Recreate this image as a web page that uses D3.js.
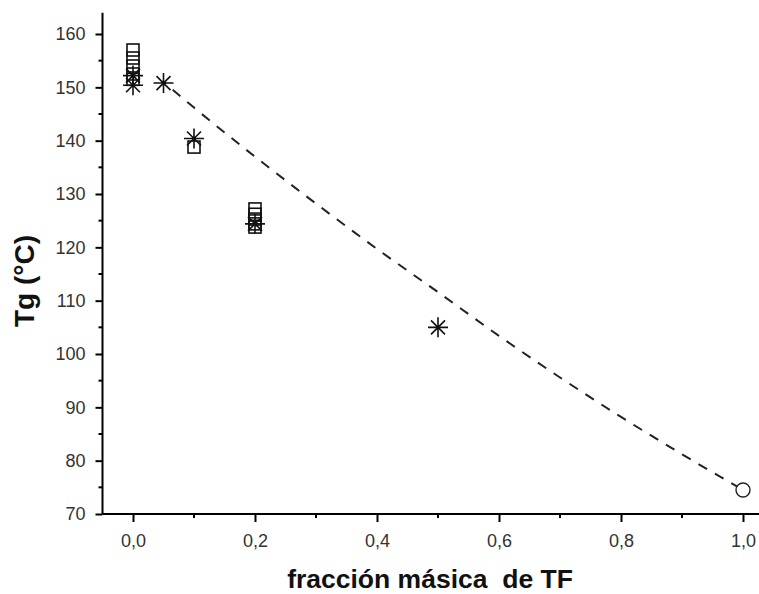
<!DOCTYPE html>
<html>
<head>
<meta charset="utf-8">
<script src="https://cdn.jsdelivr.net/npm/d3@7"></script>
<style>
  html, body { margin: 0; padding: 0; background: #fff; }
  svg { display: block; }
</style>
</head>
<body>
<svg id="chart" width="759" height="594"></svg>
<script>
// ---- data ----
const squareX = [0, 0, 0, 0, 0, 0.1, 0.2, 0.2, 0.2, 0.2, 0.2];
const squareY = [157, 155.5, 154, 152.5, 151.5, 138.8, 127.2, 126.2, 125.3, 124.4, 123.8];
const starX = [0, 0, 0.05, 0.1, 0.2, 0.5];
const starY = [152.2, 150.4, 150.8, 140.4, 124.4, 105];
const circleX = [1.0];
const circleY = [74.5];
const curveX = [0.05, 0.1, 0.2, 0.3, 0.4, 0.5, 0.6, 0.7, 0.8, 0.9, 1.0];
const curveY = [151, 146.2, 137, 128.2, 119.7, 111.6, 103.4, 95.6, 88.2, 81.2, 74.5];
const xTicks = [0, 0.2, 0.4, 0.6, 0.8, 1.0];
const xMinor = [0.1, 0.3, 0.5, 0.7, 0.9];
const yTicks = [70, 80, 90, 100, 110, 120, 130, 140, 150, 160];
const yMinor = [75, 85, 95, 105, 115, 125, 135, 145, 155];
const xTitle = "fracción másica  de TF";
const yTitle = "Tg (°C)";

// ---- scales ----
const svg = d3.select("#chart");
const x = d3.scaleLinear().domain([0, 1]).range([133, 743]);
const y = d3.scaleLinear().domain([70, 160]).range([514, 34]);
const xMin = -0.05, xMax = 1.05, yMax = 164;
const FONT = "Arial, 'Liberation Sans', sans-serif";

const fmt = d => d3.format(".1f")(d).replace(".", ",");

// x axis
const xAxisG = svg.append("g").attr("transform", `translate(0,${y(70)})`);
xAxisG.call(d3.axisBottom(x).tickValues(xTicks).tickFormat(fmt).tickSize(8).tickSizeOuter(0).tickPadding(12));
xAxisG.select(".domain").attr("d", `M${x(xMin)},0H${x(xMax)}`).attr("stroke-width", 2);
xAxisG.selectAll(".tick line").attr("stroke-width", 2);
xAxisG.selectAll(".tick text").attr("font-family", FONT).attr("font-size", 18).attr("fill", "#333");
svg.append("g").attr("transform", `translate(0,${y(70)})`)
  .selectAll("line").data(xMinor).join("line")
  .attr("x1", d => x(d)).attr("x2", d => x(d)).attr("y1", 0).attr("y2", 4)
  .attr("stroke", "#000").attr("stroke-width", 2);

// y axis
const yAxisG = svg.append("g").attr("transform", `translate(${x(xMin)},0)`);
yAxisG.call(d3.axisLeft(y).tickValues(yTicks).tickFormat(d3.format("d")).tickSize(7).tickSizeOuter(0).tickPadding(10));
yAxisG.select(".domain").attr("d", `M0,${y(70)}V${y(yMax)}`).attr("stroke-width", 2);
yAxisG.selectAll(".tick line").attr("stroke-width", 2);
yAxisG.selectAll(".tick text").attr("font-family", FONT).attr("font-size", 18).attr("fill", "#333");
svg.append("g").attr("transform", `translate(${x(xMin)},0)`)
  .selectAll("line").data(yMinor).join("line")
  .attr("x1", -4).attr("x2", 0).attr("y1", d => y(d)).attr("y2", d => y(d))
  .attr("stroke", "#000").attr("stroke-width", 2);

// dashed fit curve
const curveData = curveX.map((v, i) => [v, curveY[i]]);
svg.append("path").datum(curveData)
  .attr("d", d3.line().x(d => x(d[0])).y(d => y(d[1])).curve(d3.curveMonotoneX))
  .attr("fill", "none").attr("stroke", "#222").attr("stroke-width", 2)
  .attr("stroke-dasharray", "10,9").attr("stroke-dashoffset", -12);

// squares
const sq = 12;
svg.append("g").selectAll("rect").data(squareX.map((v, i) => [v, squareY[i]])).join("rect")
  .attr("x", d => x(d[0]) - sq / 2).attr("y", d => y(d[1]) - sq / 2)
  .attr("width", sq).attr("height", sq)
  .attr("fill", "none").attr("stroke", "#111").attr("stroke-width", 1.6);

// stars
const r = 10, rd = 7;
const starPath = `M0,${-r}V${r}M${-r},0H${r}M${-rd},${-rd}L${rd},${rd}M${-rd},${rd}L${rd},${-rd}`;
svg.append("g").selectAll("path").data(starX.map((v, i) => [v, starY[i]])).join("path")
  .attr("transform", d => `translate(${x(d[0])},${y(d[1])})`)
  .attr("d", starPath).attr("fill", "none").attr("stroke", "#111").attr("stroke-width", 1.6);

// circle
svg.append("g").selectAll("circle").data(circleX.map((v, i) => [v, circleY[i]])).join("circle")
  .attr("cx", d => x(d[0])).attr("cy", d => y(d[1])).attr("r", 7)
  .attr("fill", "#fff").attr("stroke", "#222").attr("stroke-width", 1.4);

// titles
svg.append("text").attr("x", 430).attr("y", 588).attr("text-anchor", "middle")
  .attr("font-family", FONT).attr("font-weight", "bold")
  .attr("font-size", 26.5).attr("fill", "#111").style("white-space", "pre").text(xTitle);
svg.append("text").attr("transform", "translate(34,281) rotate(-90)").attr("text-anchor", "middle")
  .attr("font-family", FONT).attr("font-weight", "bold")
  .attr("font-size", 28).attr("fill", "#111").text(yTitle);
</script>
</body>
</html>
